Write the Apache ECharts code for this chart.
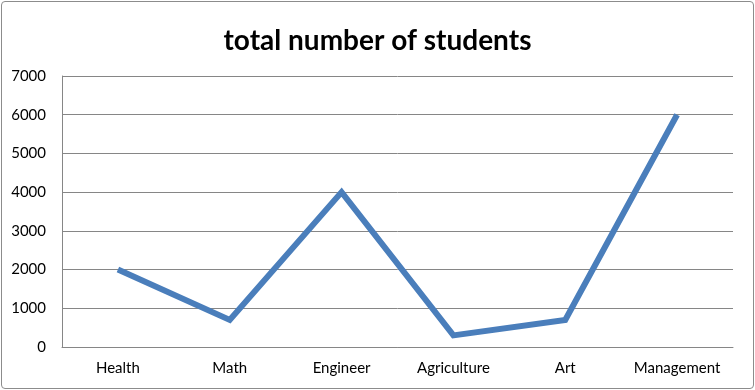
<!DOCTYPE html>
<html><head><meta charset="utf-8">
<script src="https://cdn.jsdelivr.net/npm/echarts@6/dist/echarts.min.js"></script>
<style>
html,body{margin:0;padding:0;background:#fff;}
#wrap{position:absolute;left:1px;top:1px;width:751px;height:386px;border:1.5px solid #8c8c8c;border-radius:4px;box-sizing:content-box;}
#c{position:absolute;left:0;top:0;width:755px;height:390px;}
</style></head>
<body>
<div id="wrap"></div>
<div id="c"></div>
<script>
var categories = ["Health","Math","Engineer","Agriculture","Art","Management"];
var students = [2000, 700, 4000, 300, 700, 6000];
var yTicks = [0,1000,2000,3000,4000,5000,6000,7000];

var chart = echarts.init(document.getElementById('c'), null, {renderer:'canvas'});
chart.setOption({
  animation:false,
  title:{text:'total number of students', left:'center', top:22,
    textStyle:{fontFamily:'Lato', fontWeight:'bold', fontSize:28, color:'#000'}},
  grid:{left:62, right:22, top:76, bottom:43},
  xAxis:{type:'category', data:categories, boundaryGap:true,
    axisLine:{lineStyle:{color:'#868686', width:1}},
    axisTick:{show:false},
    axisLabel:{fontFamily:'Lato', fontSize:15, color:'#000', margin:14, interval:0, hideOverlap:false}},
  yAxis:{type:'value', min:yTicks[0], max:yTicks[yTicks.length-1], interval:1000,
    axisLine:{show:true, lineStyle:{color:'#868686', width:1}},
    axisTick:{show:false},
    splitLine:{lineStyle:{color:'#868686', width:1}},
    axisLabel:{fontFamily:'Lato', fontSize:15, color:'#000', margin:16,
      formatter:function(v){return String(v);}}},
  series:[{type:'line', data:students, symbol:'none',
    lineStyle:{color:'#4a7ebb', width:6, join:'miter'}}]
});
</script>
</body></html>
